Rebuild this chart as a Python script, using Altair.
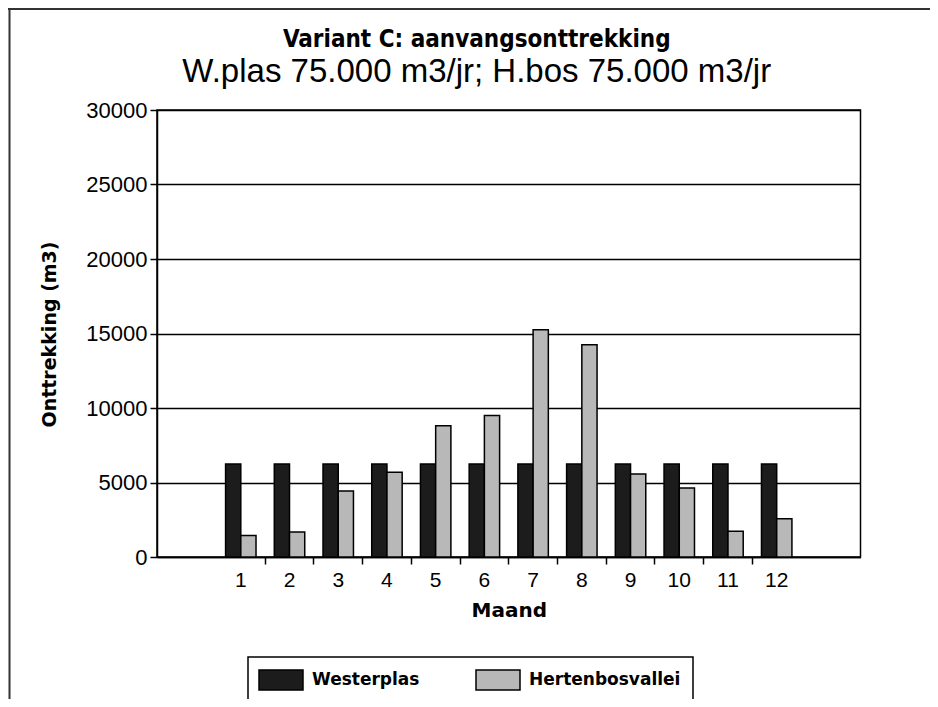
import altair as alt
import pandas as pd

months = [1, 2, 3, 4, 5, 6, 7, 8, 9, 10, 11, 12]
westerplas = [6250, 6250, 6250, 6250, 6250, 6250, 6250, 6250, 6250, 6250, 6250, 6250]
hertenbosvallei = [1450, 1680, 4430, 5680, 8810, 9500, 15250, 14250, 5570, 4630, 1720, 2570]
series = ["Westerplas", "Hertenbosvallei"]
y_ticks = [0, 5000, 10000, 15000, 20000, 25000, 30000]
x_domain = [0] + months + [13]  # empty slots left and right of the months

rows = []
for m, w, h in zip(months, westerplas, hertenbosvallei):
    rows.append({"Maand": m, "Reeks": series[0], "Onttrekking": w})
    rows.append({"Maand": m, "Reeks": series[1], "Onttrekking": h})
df = pd.DataFrame(rows)

bars = alt.Chart(df).mark_bar(stroke="black", strokeWidth=1.5).encode(
    x=alt.X(
        "Maand:O",
        scale=alt.Scale(domain=x_domain, paddingInner=0, paddingOuter=0.22),
        axis=alt.Axis(
            title="Maand", labelAngle=0, bandPosition=0,
            labelExpr="datum.value >= 1 && datum.value <= 12 ? datum.label : ''",
            labelFont="Liberation Sans", labelFontSize=21, labelColor="black",
            labelPadding=5, tickSize=7, tickWidth=1.5, tickColor="black",
            tickOpacity={"condition": {"test": "datum.value >= 2 && datum.value <= 12", "value": 1}, "value": 0},
            domainColor="black", domainWidth=1.5,
            titleFont="DejaVu Sans", titleFontSize=20, titleFontWeight="bold",
            titleColor="black", titleBaseline="alphabetic", titleY=59,
        ),
    ),
    xOffset=alt.XOffset("Reeks:N", sort=series, scale=alt.Scale(paddingOuter=0.6, paddingInner=0)),
    y=alt.Y(
        "Onttrekking:Q",
        scale=alt.Scale(domain=[0, 30000], nice=False),
        axis=alt.Axis(
            title="Onttrekking (m3)", values=y_ticks, format="d",
            labelFont="Liberation Sans", labelFontSize=22, labelColor="black",
            labelPadding=3, tickSize=7, tickWidth=1.5, tickColor="black",
            domainColor="black", domainWidth=1.5,
            grid=True, gridColor="black", gridWidth=1.5,
            titleFont="DejaVu Sans", titleFontSize=19, titleFontWeight="bold",
            titleColor="black", titleBaseline="alphabetic", titleX=-102, titleY=224,
        ),
    ),
    color=alt.Color(
        "Reeks:N",
        sort=series,
        scale=alt.Scale(domain=series, range=["#1c1c1c", "#b8b8b8"]),
        legend=alt.Legend(
            title=None, orient="none", legendX=91, legendY=547, direction="horizontal",
            strokeColor="black", padding=12, fillColor="white",
            symbolType="M-2.2,-1H2.2V1H-2.2Z", symbolSize=400, symbolOffset=10,
            symbolStrokeColor="black", symbolStrokeWidth=1.5, symbolOpacity=1,
            labelFont="DejaVu Sans", labelFontSize=17, labelFontWeight="bold",
            labelColor="black", labelOffset=20, columnPadding=53,
        ),
    ),
)

frame_df = pd.DataFrame({"f": [0]})
frame_top = alt.Chart(frame_df).mark_rule(color="#333333", strokeWidth=2).encode(
    x=alt.value(-150), x2=alt.value(780), y=alt.value(-101)
)
frame_left = alt.Chart(frame_df).mark_rule(color="#333333", strokeWidth=2).encode(
    x=alt.value(-147.5), y=alt.value(-102), y2=alt.value(600)
)

chart = alt.layer(frame_top, frame_left, bars).properties(
    width=703.5,
    height=447,
    autosize="none",
    padding={"left": 149, "top": 102, "right": 69, "bottom": 142},
    title=alt.TitleParams(
        text="Variant C: aanvangsonttrekking",
        subtitle="W.plas 75.000 m3/jr; H.bos 75.000 m3/jr",
        font="DejaVu Sans Condensed", fontSize=24, fontWeight="bold", color="black",
        subtitleFont="Liberation Sans", subtitleFontSize=33, subtitleColor="black",
        subtitlePadding=4, anchor="middle", dx=-32, offset=-81.5,
    ),
).configure_view(stroke="black", strokeWidth=1.5).configure_legend(strokeWidth=1.5)

chart.save("out.html", embed_options={"renderer": "svg", "actions": False})
